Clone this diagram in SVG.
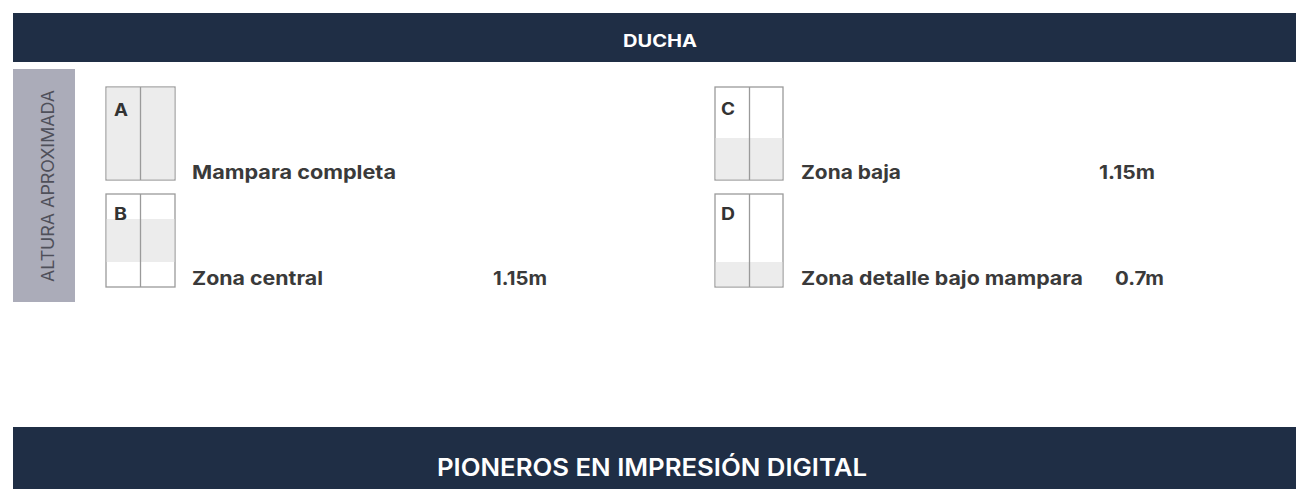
<svg xmlns="http://www.w3.org/2000/svg" width="1296" height="489" viewBox="0 0 1296 489">
<style>
.bar{fill:#1f2e45}
.side{fill:#abacb9}
.box{fill:#fff;stroke:#9a9a9a;stroke-width:1.3}
.shade{fill:#ececec}
.div{stroke:#9a9a9a;stroke-width:1.3}
.ltr{font-family:"Inter","Liberation Sans",sans-serif;font-weight:700;font-size:17px;fill:#333}
.lbl{font-family:"Inter","Liberation Sans",sans-serif;font-weight:700;font-size:19px;fill:#3a3a3a}
.hdr{font-family:"Inter","Liberation Sans",sans-serif;font-weight:700;font-size:17px;fill:#fff}
.foot{font-family:"Inter","Liberation Sans",sans-serif;font-weight:600;font-size:24px;fill:#fff}
.vert{font-family:"Inter","Liberation Sans",sans-serif;font-weight:400;font-size:17px;fill:#4f505a}
</style>
<rect width="1296" height="489" fill="#fff"/>
<g id="header">
<rect class="bar" x="13" y="13" width="1283" height="49"/>
<text class="hdr" x="623" y="47" textLength="74" lengthAdjust="spacingAndGlyphs">DUCHA</text>
</g>
<g id="side-label">
<rect class="side" x="13" y="69" width="62" height="233"/>
<text class="vert" transform="translate(53.5,282) rotate(-90)" textLength="192" lengthAdjust="spacingAndGlyphs">ALTURA APROXIMADA</text>
</g>
<g id="node-A">
<rect class="box" x="106" y="87" width="69" height="93"/>
<rect class="shade" x="106.7" y="87.7" width="67.6" height="91.6"/>
<line class="div" x1="140.5" y1="87" x2="140.5" y2="180"/>
<text class="ltr" x="114" y="116" textLength="14" lengthAdjust="spacingAndGlyphs">A</text>
<text class="lbl" x="192" y="179" textLength="204" lengthAdjust="spacingAndGlyphs">Mampara completa</text>
</g>
<g id="node-B">
<rect class="box" x="106" y="194" width="69" height="93"/>
<rect class="shade" x="106.7" y="219" width="67.6" height="43"/>
<line class="div" x1="140.5" y1="194" x2="140.5" y2="287"/>
<text class="ltr" x="114" y="220" textLength="13" lengthAdjust="spacingAndGlyphs">B</text>
<text class="lbl" x="192" y="285" textLength="131" lengthAdjust="spacingAndGlyphs">Zona central</text>
<text class="lbl" x="493" y="285" textLength="54" lengthAdjust="spacingAndGlyphs">1.15m</text>
</g>
<g id="node-C">
<rect class="box" x="715" y="87" width="68" height="93"/>
<rect class="shade" x="715.7" y="138" width="66.6" height="41.3"/>
<line class="div" x1="749.5" y1="87" x2="749.5" y2="180"/>
<text class="ltr" x="721" y="114.5" textLength="14" lengthAdjust="spacingAndGlyphs">C</text>
<text class="lbl" x="801" y="179" textLength="100" lengthAdjust="spacingAndGlyphs">Zona baja</text>
<text class="lbl" x="1099" y="179" textLength="56" lengthAdjust="spacingAndGlyphs">1.15m</text>
</g>
<g id="node-D">
<rect class="box" x="715" y="194" width="68" height="93"/>
<rect class="shade" x="715.7" y="262" width="66.6" height="24.3"/>
<line class="div" x1="749.5" y1="194" x2="749.5" y2="287"/>
<text class="ltr" x="721" y="220" textLength="14" lengthAdjust="spacingAndGlyphs">D</text>
<text class="lbl" x="801" y="285" textLength="282" lengthAdjust="spacingAndGlyphs">Zona detalle bajo mampara</text>
<text class="lbl" x="1115" y="285" textLength="49" lengthAdjust="spacingAndGlyphs">0.7m</text>
</g>
<g id="connectors"/>
<g id="footer">
<rect class="bar" x="13" y="427" width="1283" height="62"/>
<text class="foot" x="437" y="475.5" textLength="430" lengthAdjust="spacingAndGlyphs">PIONEROS EN IMPRESIÓN DIGITAL</text>
</g>
</svg>
